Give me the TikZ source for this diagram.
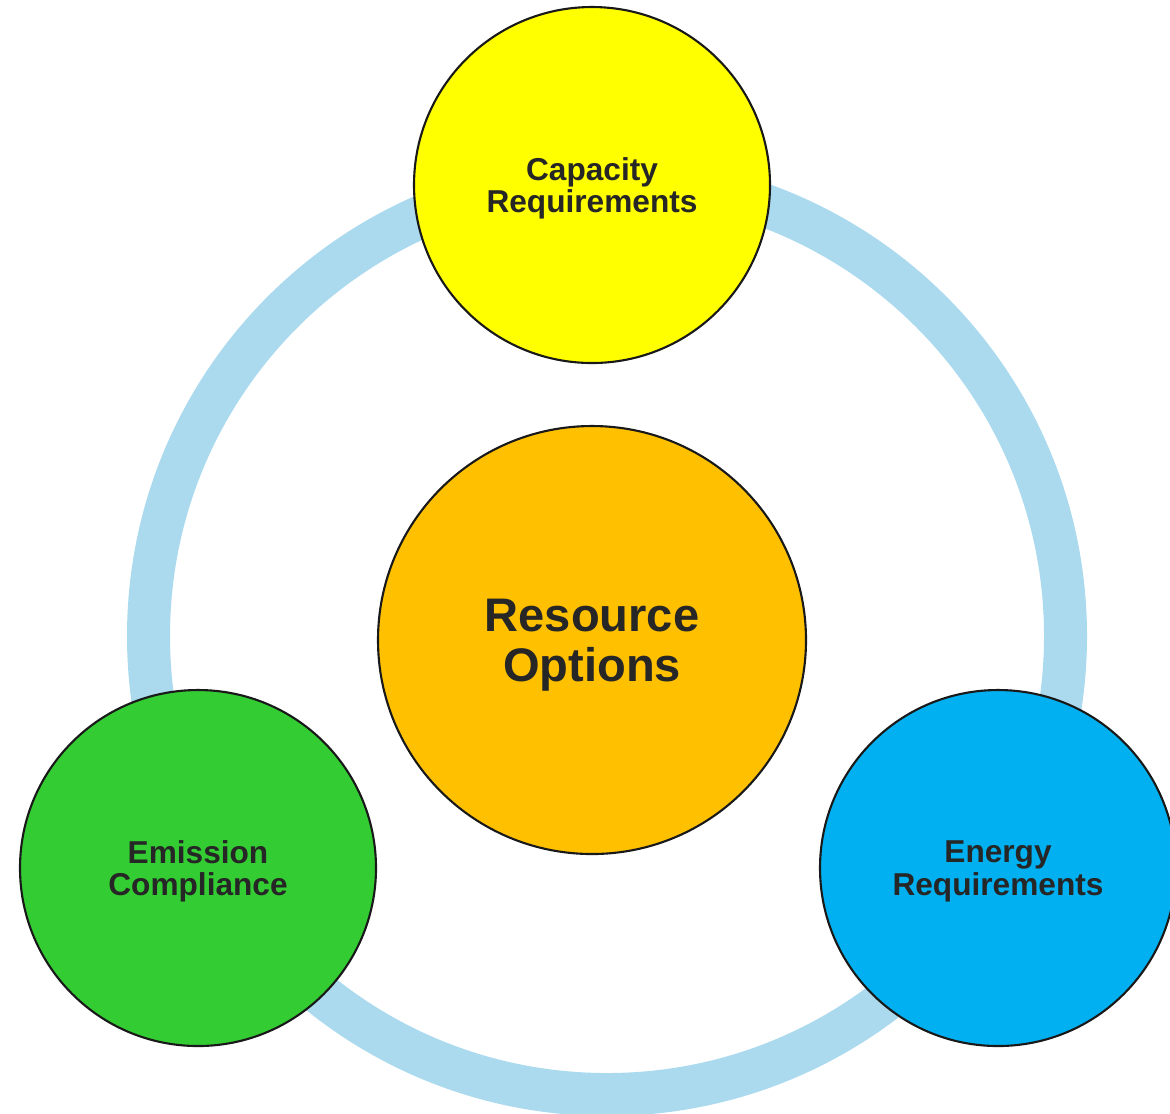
\documentclass[tikz,border=0pt]{standalone}
\usepackage{fontspec}
\setmainfont{Liberation Sans}
\usepackage{tikz}
\definecolor{ringblue}{HTML}{ABDAEF}
\definecolor{capyellow}{HTML}{FFFF00}
\definecolor{resorange}{HTML}{FFC000}
\definecolor{emigreen}{HTML}{33CC33}
\definecolor{enerblue}{HTML}{00B0F0}
\definecolor{textgray}{HTML}{262626}
\tikzset{
  main node/.style={circle,draw=black!90,line width=0.6pt,minimum size=3.56cm,inner sep=0pt,
    align=center,text=textgray,text depth=0pt,font=\fontsize{9}{9.3}\selectfont\bfseries},
  big node/.style={main node,minimum size=4.28cm,font=\fontsize{13.4}{14.2}\selectfont\bfseries},
  ring/.style={draw=ringblue,line width=0.43cm}
}
\begin{document}
\begin{tikzpicture}
  \useasboundingbox (0,0) rectangle (11.7,-11.13);
  \clip (0,0) rectangle (11.7,-11.13);
  \coordinate (c) at (6.07,-6.36);
  \draw[ring] (c) circle (4.585cm);
  \node [main node,fill=capyellow] (cap) at (5.92,-1.85) {Capacity\\Requirements};
  \node [big node,fill=resorange] (res) at (5.92,-6.40) {Resource\\Options};
  \node [main node,fill=emigreen] (emi) at (1.98,-8.68) {Emission\\Compliance};
  \node [main node,fill=enerblue] (ener) at (9.98,-8.68) {Energy\\Requirements};
\end{tikzpicture}
\end{document}
